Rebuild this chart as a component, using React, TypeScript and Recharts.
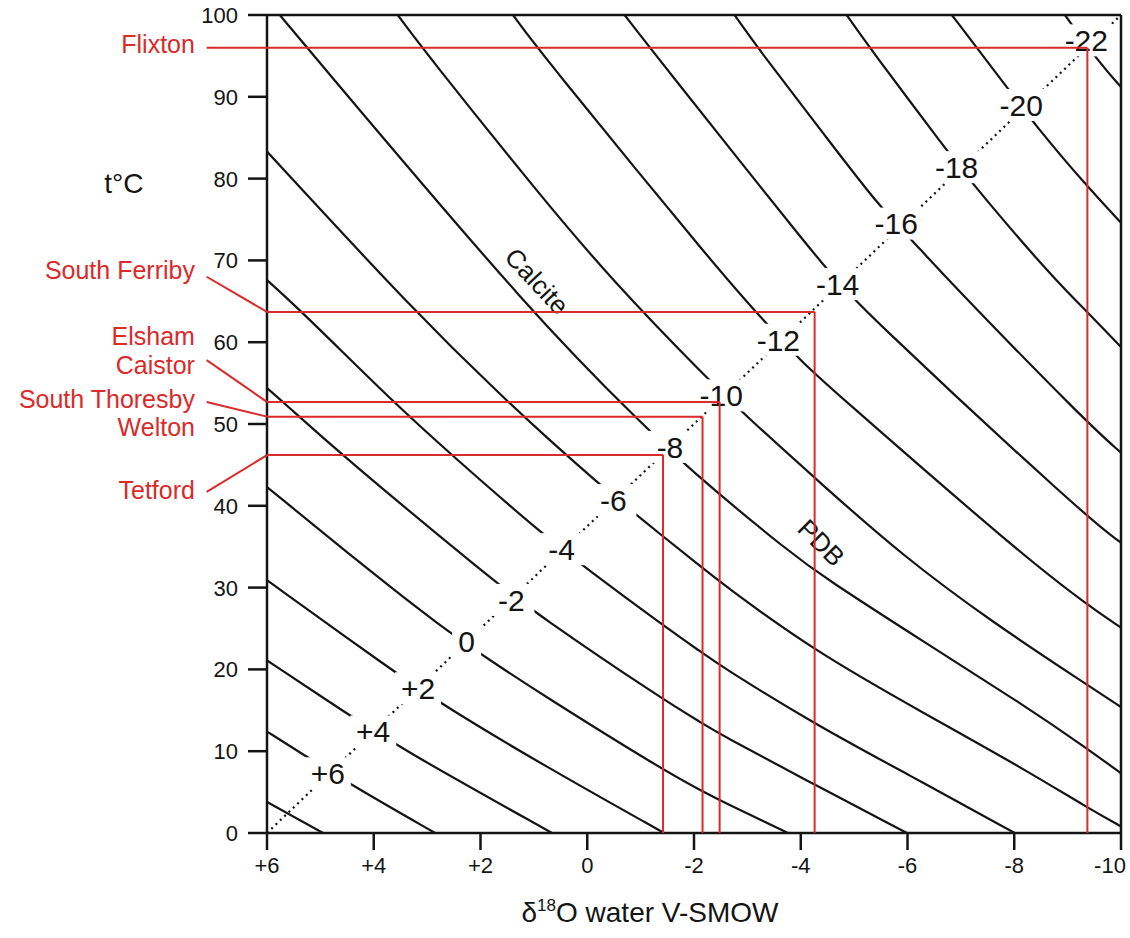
import { ComposedChart, Line, XAxis, YAxis, ReferenceLine, ReferenceDot } from 'recharts';

const FONT = '"Liberation Sans", Arial, Helvetica, sans-serif';
const INK = '#141414';
const RED = '#da2a2a';
const CHART_W = 1130;

/* calcite isolines (δ18O PDB) as [δ18O water, t°C] */
const isoP8 = [[6, 3.8], [4.95, 0]];
const isoP6 = [[6, 12.4], [5.25, 9.3], [4.35, 5.6], [2.85, 0]];
const isoP4 = [[6, 21.1], [4.48, 14.5], [3.51, 10.4], [0.66, 0]];
const isoP2 = [[6, 30.9], [3.64, 19.8], [2.67, 15.5], [0.8, 8.2], [-1.44, 0]];
const iso0 = [[6, 42.3], [4.22, 32.8], [2.76, 25.3], [1.77, 20.9], [0.89, 17.1], [-1.42, 7.7], [-2.16, 5.1], [-2.48, 4.0], [-3.76, 0]];
const isoM2 = [[6, 54.4], [5.7, 52.7], [4.6, 46.2], [1.77, 30.9], [0.93, 26.7], [-1.42, 16.3], [-2.16, 13.4], [-2.48, 12.1], [-4.26, 5.9], [-5.99, 0]];
const isoM4 = [[6, 67.6], [5.34, 63.7], [3.64, 52.7], [2.54, 46.2], [0.89, 36.8], [-0.01, 32.2], [-1.42, 25.4], [-2.16, 22.0], [-2.48, 20.5], [-4.26, 13.3], [-6.0, 7.2], [-8.01, 0]];
const isoM6 = [[6, 83.3], [3.23, 63.7], [1.49, 52.7], [0.7, 48.0], [-0.18, 42.9], [-0.99, 38.5], [-2.16, 32.4], [-2.48, 30.7], [-4.26, 22.2], [-6.32, 14.6], [-8.19, 7.8], [-9.37, 3.1], [-10, 0.8]];
const isoM8 = [[5.76, 100], [5.25, 96.0], [0.89, 62.3], [-1.12, 49.5], [-1.88, 44.6], [-3.85, 34.0], [-4.45, 31.2], [-6.32, 23.3], [-8.19, 15.6], [-9.37, 10.3], [-10, 7.3]];
const isoM10 = [[3.55, 100], [3.1, 96.0], [0.89, 78.0], [-0.46, 67.6], [-2.24, 55.6], [-2.99, 50.9], [-4.45, 42.3], [-5.89, 34.0], [-7.58, 25.8], [-9.37, 18.1], [-10, 15.4]];
const isoM12 = [[1.39, 100], [0.89, 95.5], [-2.61, 67.6], [-3.33, 62.5], [-4.02, 57.6], [-4.45, 55.0], [-8.14, 34.0], [-9.37, 27.9], [-10, 25.1]];
const isoM14 = [[-0.7, 100], [-1.17, 96.0], [-4.41, 69.4], [-5.07, 64.5], [-9.37, 38.5], [-10, 35.5]];
const isoM16 = [[-2.76, 100], [-3.19, 96.0], [-4.45, 85.3], [-5.48, 76.5], [-6.1, 72.4], [-6.64, 68.4], [-9.37, 50.1], [-10, 46.5]];
const isoM18 = [[-4.86, 100], [-5.29, 96.0], [-6.73, 83.5], [-7.31, 78.6], [-8.76, 67.6], [-9.37, 63.7], [-10, 59.4]];
const isoM20 = [[-6.83, 100], [-7.3, 96.0], [-7.86, 91.2], [-8.42, 86.3], [-9.37, 79.0], [-10, 74.6]];
const isoM22 = [[-8.95, 100], [-9.6, 94.1], [-10, 91.2]];

const isolines = [isoP8, isoP6, isoP4, isoP2, iso0, isoM2, isoM4, isoM6, isoM8, isoM10, isoM12, isoM14, isoM16, isoM18, isoM20, isoM22]
  .map((c) => c.map(([w, t]) => ({ w, t })));

/* equal-δ diagonal, drawn dotted */
const diagonal = [{ w: 6, t: 0 }, { w: -10, t: 100 }];

const isoLabels = ['+6', '+4', '+2', '0', '-2', '-4', '-6', '-8', '-10', '-12', '-14', '-16', '-18', '-20', '-22'];
const isoLabelW = [4.86, 4.01, 3.17, 2.26, 1.42, 0.48, -0.49, -1.55, -2.51, -3.58, -4.69, -5.79, -6.92, -8.13, -9.35];
const isoLabelT = [7.3, 12.4, 17.7, 23.5, 28.5, 34.7, 40.7, 47.2, 53.5, 60.3, 67.1, 74.5, 81.4, 89.0, 96.9];

/* sampling sites: temperature and water δ18O */
const siteNames = ['Flixton', 'South Ferriby', 'Elsham Caistor', 'South Thoresby Welton', 'Tetford'];
const siteTemp = [96.0, 63.7, 52.7, 50.9, 46.2];
const siteWater = [-9.37, -4.26, -2.48, -2.16, -1.42];
const leaderTemp = [96.0, 68.0, 57.8, 52.7, 41.7];
const LEADER_W = 7.13;

const siteText = ['Flixton', 'South Ferriby', 'Elsham', 'Caistor', 'South Thoresby', 'Welton', 'Tetford'];
const siteTextT = [96.5, 68.8, 60.8, 57.2, 53.1, 49.6, 41.9];
const SITE_TEXT_W = 7.35;

const xTicks = [6, 4, 2, 0, -2, -4, -6, -8, -10];
const yTicks = [0, 10, 20, 30, 40, 50, 60, 70, 80, 90, 100];

const fmtX = (v: number) => (v > 0 ? `+${v}` : `${v}`);

const XTick = ({ x, y, payload }: any) => {
  const label = fmtX(payload.value);
  // keep the last label inside the picture, as in the original
  const half = label.length * 6;
  const cx = Math.min(x, CHART_W - half - 2);
  return (
    <text x={cx} y={y} dy="0.75em" textAnchor="middle" fontSize={22} fontFamily={FONT} fill={INK}>
      {label}
    </text>
  );
};

const YTick = ({ x, y, payload }: any) => (
  <text x={x} y={y} dy="0.36em" textAnchor="end" fontSize={22} fontFamily={FONT} fill={INK}>
    {payload.value}
  </text>
);

const IsoLabel = ({ cx, cy, text }: any) => {
  const w = text.length * 17 + 12;
  return (
    <g>
      <rect x={cx - w / 2} y={cy - 16} width={w} height={32} fill="#fff" />
      <text x={cx} y={cy} dy="0.36em" textAnchor="middle" fontSize={30} fontFamily={FONT} fill={INK}>
        {text}
      </text>
    </g>
  );
};

const FreeText = ({ cx, cy, text, color = INK, size = 26, anchor = 'end', rotate = 0 }: any) => (
  <text
    x={cx}
    y={cy}
    dy="0.36em"
    textAnchor={anchor}
    fontSize={size}
    fontFamily={FONT}
    fill={color}
    transform={rotate ? `rotate(${rotate} ${cx} ${cy})` : undefined}
  >
    {text}
  </text>
);

const XTitle = ({ viewBox }: any) => {
  const x = viewBox.x + viewBox.width / 2 - 44;
  const y = viewBox.y + 89;
  return (
    <text x={x} y={y} textAnchor="middle" fontSize={28} fontFamily={FONT} fill={INK}>
      δ<tspan dy={-11} fontSize={17}>18</tspan>
      <tspan dy={11}>O water V-SMOW</tspan>
    </text>
  );
};

export default function App() {
  return (
    <div style={{ position: 'absolute', left: 0, top: 0, width: CHART_W, height: 938, background: '#fff' }}>
      <ComposedChart width={CHART_W} height={938} margin={{ top: 15, right: 9, left: 207, bottom: 45 }}>
        <XAxis
          type="number"
          dataKey="w"
          domain={[-10, 6]}
          reversed
          allowDataOverflow
          ticks={xTicks}
          height={60}
          tickSize={17}
          tickMargin={6}
          axisLine={{ stroke: INK, strokeWidth: 2.5 }}
          tickLine={{ stroke: INK, strokeWidth: 2.5 }}
          tick={<XTick />}
          label={{ content: (p: any) => <XTitle viewBox={p.viewBox} /> }}
        />
        <YAxis
          type="number"
          dataKey="t"
          domain={[0, 100]}
          allowDataOverflow
          ticks={yTicks}
          width={60}
          tickSize={19}
          tickMargin={10}
          axisLine={{ stroke: INK, strokeWidth: 2.5 }}
          tickLine={{ stroke: INK, strokeWidth: 2.5 }}
          tick={<YTick />}
        />

        <ReferenceLine y={100} stroke={INK} strokeWidth={2.5} />
        <ReferenceLine x={-10} stroke={INK} strokeWidth={2.5} />

        {isolines.map((pts, i) => (
          <Line
            key={`iso-${i}`}
            data={pts}
            dataKey="t"
            type="basis"
            stroke={INK}
            strokeWidth={2.2}
            dot={false}
            activeDot={false}
            isAnimationActive={false}
          />
        ))}
        <Line
          data={diagonal}
          dataKey="t"
          type="linear"
          stroke={INK}
          strokeWidth={2.2}
          strokeDasharray="2 4"
          dot={false}
          activeDot={false}
          isAnimationActive={false}
        />

        {isoLabels.map((lab, i) => (
          <ReferenceDot
            key={`lab-${i}`}
            x={isoLabelW[i]}
            y={isoLabelT[i]}
            zIndex={650}
            shape={(p: any) => <IsoLabel cx={p.cx} cy={p.cy} text={lab} />}
          />
        ))}

        <ReferenceDot x={0.94} y={67.5} shape={(p: any) => <FreeText cx={p.cx} cy={p.cy} text="Calcite" anchor="middle" size={26} rotate={47} />} />
        <ReferenceDot x={-4.39} y={35.5} shape={(p: any) => <FreeText cx={p.cx} cy={p.cy} text="PDB" anchor="middle" size={26} rotate={45} />} />
        <ReferenceDot x={8.68} y={79.5} ifOverflow="visible" shape={(p: any) => <FreeText cx={p.cx} cy={p.cy} text="t°C" anchor="middle" size={28} />} />

        {siteText.map((s, i) => (
          <ReferenceDot
            key={`st-${i}`}
            x={SITE_TEXT_W}
            y={siteTextT[i]}
            ifOverflow="visible"
            shape={(p: any) => <FreeText cx={p.cx} cy={p.cy} text={s} color={RED} size={25} />}
          />
        ))}

        {siteNames.map((name, i) => (
          <ReferenceLine
            key={`ld-${name}`}
            segment={[{ x: LEADER_W, y: leaderTemp[i] }, { x: 6, y: siteTemp[i] }]}
            ifOverflow="visible"
            zIndex={700}
            stroke={RED}
            strokeWidth={2}
          />
        ))}
        {siteNames.map((name, i) => (
          <ReferenceLine
            key={`h-${name}`}
            segment={[{ x: 6, y: siteTemp[i] }, { x: siteWater[i], y: siteTemp[i] }]}
            ifOverflow="visible"
            zIndex={700}
            stroke={RED}
            strokeWidth={2}
          />
        ))}
        {siteNames.map((name, i) => (
          <ReferenceLine
            key={`v-${name}`}
            segment={[{ x: siteWater[i], y: siteTemp[i] }, { x: siteWater[i], y: 0 }]}
            ifOverflow="visible"
            zIndex={700}
            stroke={RED}
            strokeWidth={2}
          />
        ))}
      </ComposedChart>
    </div>
  );
}
